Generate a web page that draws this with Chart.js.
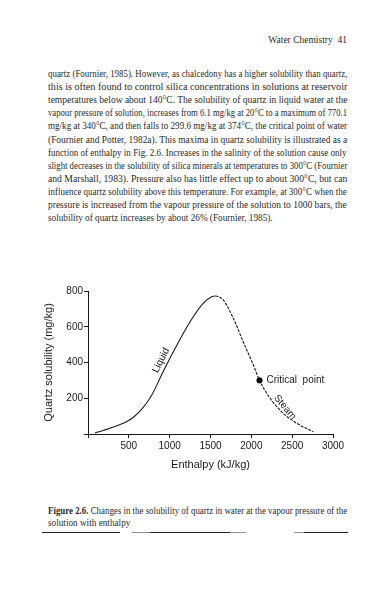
<!DOCTYPE html>
<html>
<head>
<meta charset="utf-8">
<script src="https://cdn.jsdelivr.net/npm/chart.js@4.4.1/dist/chart.umd.min.js"></script>
<style>
  html, body { margin: 0; padding: 0; background: #fff; }
  body { width: 391px; height: 592px; position: relative; overflow: hidden; }
  .ln {
    position: absolute; left: 48px; white-space: nowrap;
    font-family: "Liberation Serif", "Times New Roman", serif;
    font-size: 10.5px; line-height: 12px; color: #2a2a2a;
    transform-origin: 0 50%;
  }
  .hdr {
    position: absolute; top: 35px; right: 44px; white-space: nowrap;
    font-family: "Liberation Serif", serif; font-size: 9.5px; color: #2a2a2a;
  }
  .rule { position: absolute; height: 1px; background: #222; top: 532px; }
  #chartBox { position: absolute; left: 30px; top: 280px; width: 320px; height: 200px; }
</style>
</head>
<body>
<div class="hdr">Water Chemistry&nbsp;&nbsp;41</div>
<div id="text"></div>
<div id="chartBox"><canvas id="chart" width="320" height="200"></canvas></div>
<div class="rule" style="left:42px;width:78px"></div>
<div class="rule" style="left:132px;width:18px;opacity:.5"></div>
<div class="rule" style="left:150px;width:80px"></div>
<div class="rule" style="left:230px;width:16px;opacity:.5"></div>
<div class="rule" style="left:294px;width:10px;opacity:.5"></div>
<div class="rule" style="left:304px;width:44px"></div>

<script>
// page text (one entry per printed line)
const bodyLines = [
  "quartz (Fournier, 1985).  However, as chalcedony has a higher solubility than quartz,",
  "this is often found to control silica concentrations in solutions at reservoir",
  "temperatures below about 140°C.  The solubility of quartz in liquid water at the",
  "vapour pressure of solution, increases from 6.1 mg/kg at 20°C to a maximum of 770.1",
  "mg/kg at 340°C, and then falls to 299.6 mg/kg at 374°C, the critical point of water",
  "(Fournier and Potter, 1982a).  This maxima in quartz solubility is illustrated as a",
  "function of enthalpy in Fig. 2.6.  Increases in the salinity of the solution cause only",
  "slight decreases in the solubility of silica minerals at temperatures to 300°C (Fournier",
  "and Marshall, 1983).  Pressure also has little effect up to about 300°C, but can",
  "influence quartz solubility above this temperature.  For example, at 300°C when the",
  "pressure is increased from the vapour pressure of the solution to 1000 bars, the",
  "solubility of quartz increases by about 26% (Fournier, 1985)."
];
const captionLines = [
  "<b>Figure 2.6.</b>  Changes in the solubility of quartz in water at the vapour pressure of the",
  "solution with enthalpy"
];

// chart data
const enthalpy = [84, 270, 470, 560, 650, 720, 790, 900, 1045, 1250, 1410, 1515, 1560, 1655, 1780, 1900, 2025, 2100, 2230, 2390, 2555, 2760];
const solubility = [6, 32, 68, 95, 135, 175, 225, 330, 460, 628, 731, 768, 772, 750, 647, 516, 386, 300, 200, 116, 60, 12];
const criticalPoint = { x: 2100, y: 300 };
const xTicks = [500, 1000, 1500, 2000, 2500, 3000];
const yTicks = [200, 400, 600, 800];
const yTitle = "Quartz solubility (mg/kg)";

// lay out the text lines and squeeze them to the printed width
const textBox = document.getElementById("text");
function addLine(html, top, full) {
  const el = document.createElement("div");
  el.className = "ln";
  el.innerHTML = html;
  el.style.top = top + "px";
  el.dataset.full = full ? "1" : "";
  textBox.appendChild(el);
  return el;
}
const els = [];
bodyLines.forEach((t, i) => els.push(addLine(t, 68 + i * 13.1, i < bodyLines.length - 1)));
els.push(addLine(captionLines[0], 505, true));
els.push(addLine(captionLines[1], 517, false));
let sum = 0, n = 0;
els.forEach((el) => {
  if (el.dataset.full) {
    const s = 299 / el.offsetWidth;
    el.style.transform = "scaleX(" + s + ")";
    sum += s; n++;
  }
});
els.forEach((el) => {
  if (!el.dataset.full) el.style.transform = "scaleX(" + (sum / n) + ")";
});

// labels written on the curve, plus the y axis title
const curveLabels = {
  id: "curveLabels",
  afterDatasetsDraw(chart) {
    const { ctx, scales, chartArea } = chart;
    const px = (v) => scales.x.getPixelForValue(v);
    const py = (v) => scales.y.getPixelForValue(v);
    ctx.save();
    ctx.fillStyle = "#1a1a1a";
    ctx.font = "10px 'Liberation Sans', Arial, sans-serif";
    ctx.textBaseline = "middle";

    ctx.save();
    ctx.translate(px(895), py(412));
    ctx.rotate(-63 * Math.PI / 180);
    ctx.textAlign = "center";
    ctx.fillText("Liquid", 0, 0);
    ctx.restore();

    ctx.save();
    ctx.translate(px(2412), py(150));
    ctx.rotate(50 * Math.PI / 180);
    ctx.textAlign = "center";
    ctx.fillText("Steam", 0, 0);
    ctx.restore();

    ctx.textAlign = "left";
    ctx.fillText("Critical  point", px(criticalPoint.x) + 7, py(criticalPoint.y));

    ctx.save();
    ctx.font = "11px 'Liberation Sans', Arial, sans-serif";
    ctx.translate(chartArea.left - 39, (chartArea.top + chartArea.bottom) / 2);
    ctx.rotate(-Math.PI / 2);
    ctx.textAlign = "center";
    ctx.fillText(yTitle, 0, 0);
    ctx.restore();
    ctx.restore();
  }
};

const axisFont = { family: "'Liberation Sans', Arial, sans-serif", size: 10 };

new Chart(document.getElementById("chart"), {
  type: "line",
  plugins: [curveLabels],
  data: {
    datasets: [
      {
        data: enthalpy.map((e, i) => ({ x: e, y: solubility[i] })),
        borderColor: "#1a1a1a",
        borderWidth: 1.1,
        pointRadius: 0,
        fill: false,
        cubicInterpolationMode: "monotone",
        segment: {
          borderDash: (c) => (c.p0.parsed.x >= 1560 ? [3, 1.2] : undefined)
        }
      },
      {
        data: [criticalPoint],
        showLine: false,
        pointRadius: 2.8,
        pointBorderWidth: 0.5,
        pointBackgroundColor: "#000",
        pointBorderColor: "#000"
      }
    ]
  },
  options: {
    responsive: false,
    devicePixelRatio: 1,
    animation: false,
    layout: { padding: { top: 11, right: 17, left: 0, bottom: 0 } },
    plugins: { legend: { display: false }, tooltip: { enabled: false } },
    scales: {
      x: {
        type: "linear",
        min: 0,
        max: 3000,
        afterBuildTicks: (s) => { s.ticks = [0].concat(xTicks).map((v) => ({ value: v })); },
        afterFit: (s) => { s.height = 46; },
        ticks: {
          color: "#1a1a1a",
          font: axisFont,
          padding: 2,
          maxRotation: 0,
          callback: (v) => (v === 0 ? "" : v)
        },
        grid: { display: true, drawOnChartArea: false, drawTicks: true, tickLength: 4, color: "#1a1a1a" },
        border: { display: true, color: "#1a1a1a", width: 1 },
        title: {
          display: true,
          text: "Enthalpy (kJ/kg)",
          color: "#1a1a1a",
          font: { family: "'Liberation Sans', Arial, sans-serif", size: 11 },
          padding: { top: 0, bottom: 8 }
        }
      },
      y: {
        min: 0,
        max: 800,
        afterBuildTicks: (s) => { s.ticks = [0].concat(yTicks).map((v) => ({ value: v })); },
        afterFit: (s) => { s.width = 58; },
        ticks: {
          color: "#1a1a1a",
          font: axisFont,
          padding: 1,
          callback: (v) => (v === 0 ? "" : v)
        },
        grid: { display: true, drawOnChartArea: false, drawTicks: true, tickLength: 4, color: "#1a1a1a" },
        border: { display: true, color: "#1a1a1a", width: 1 },
        title: { display: false }
      }
    }
  }
});
</script>
</body>
</html>
